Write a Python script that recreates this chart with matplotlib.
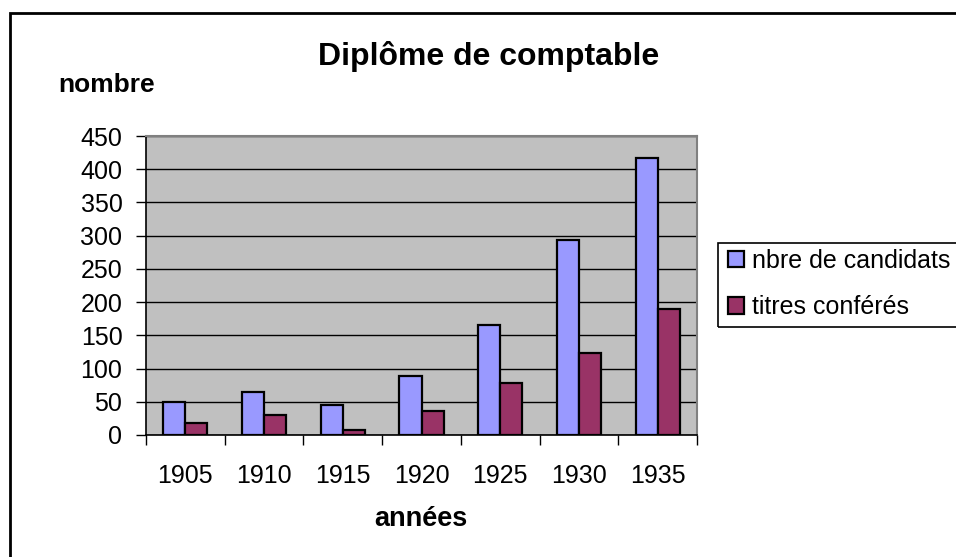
import numpy as np
import matplotlib.pyplot as plt
from matplotlib.patches import Rectangle

plt.rcParams['font.family'] = ['Liberation Sans', 'DejaVu Sans']

annees = ['1905', '1910', '1915', '1920', '1925', '1930', '1935']
candidats = [50, 65, 45, 89, 165, 294, 417]
titres = [18, 30, 8, 36, 78, 123, 189]

W, H = 956, 557
fig = plt.figure(figsize=(W / 100, H / 100), dpi=100)
fig.patch.set_facecolor('white')

# outer frame (runs off the right and bottom edges)
fig.patches.append(Rectangle((10 / W, -0.05), 1.0, 1 - 13 / H + 0.05,
                             transform=fig.transFigure, fill=False,
                             edgecolor='black', linewidth=2))

ax = fig.add_axes([146 / W, 1 - 435 / H, 551 / W, 299 / H])
ax.set_facecolor('#C0C0C0')

x = np.arange(len(annees))
w = 0.28
ax.bar(x - w / 2, candidats, w, color='#9999FF', edgecolor='black', linewidth=1.6,
       label='nbre de candidats', zorder=3)
ax.bar(x + w / 2, titres, w, color='#993366', edgecolor='black', linewidth=1.6,
       label='titres conférés', zorder=3)

ax.set_xlim(-0.5, len(annees) - 0.5)
ax.set_ylim(0, 450)
ax.set_yticks(range(0, 451, 50))
ax.grid(axis='y', color='black', linewidth=1, zorder=1)

ax.set_xticks(np.arange(len(annees) + 1) - 0.5)
ax.set_xticklabels([])
ax.set_xticks(x, minor=True)
ax.set_xticklabels(annees, minor=True)
ax.tick_params(axis='x', which='major', length=7, width=1, direction='out')
ax.tick_params(axis='x', which='minor', length=0, pad=21, labelsize=18)
ax.tick_params(axis='y', length=7, width=1, direction='out', pad=10, labelsize=18)

for s in ['top', 'right']:
    ax.spines[s].set_color('#808080')
    ax.spines[s].set_linewidth(1.5)
for s in ['left', 'bottom']:
    ax.spines[s].set_color('black')
    ax.spines[s].set_linewidth(1.2)

fig.text(489 / W, 1 - 57 / H, 'Diplôme de comptable', ha='center', va='center',
         fontsize=23, fontweight='bold')
fig.text(107 / W, 1 - 85 / H, 'nombre', ha='center', va='center',
         fontsize=19, fontweight='bold')
fig.text(421 / W, 1 - 519 / H, 'années', ha='center', va='center',
         fontsize=19.5, fontweight='bold')

# legend box (runs off the right edge)
fig.patches.append(Rectangle((718 / W, 1 - 327 / H), 0.5, 84 / H,
                             transform=fig.transFigure, fill=False,
                             edgecolor='black', linewidth=1.2))
fig.legend(loc='center left', bbox_to_anchor=(728 / W, 1 - 284 / H),
           frameon=False, fontsize=18, handlelength=0.65, handleheight=0.65,
           handletextpad=0.3, labelspacing=0.9, borderaxespad=0, borderpad=0)

fig.savefig('out.png', dpi=100)
